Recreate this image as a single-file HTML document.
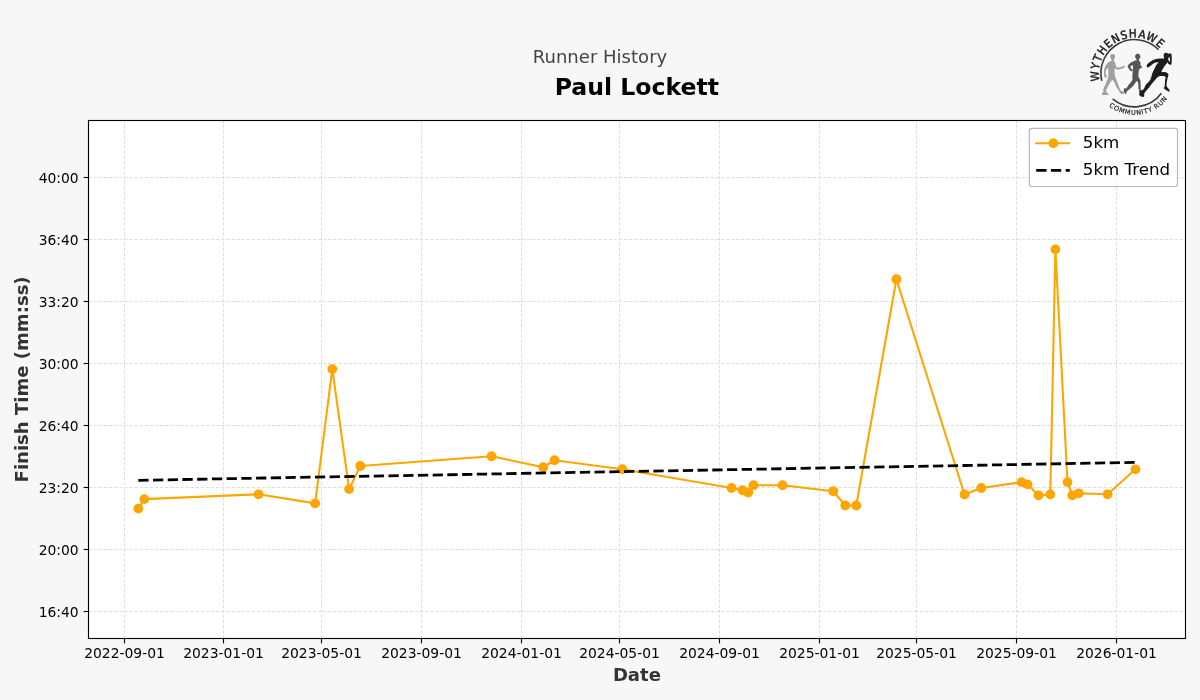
<!DOCTYPE html>
<html lang="en"><head><meta charset="utf-8"><title>Runner History - Paul Lockett</title>
<style>
html,body{margin:0;padding:0;background:#f7f7f7;}
body{width:1200px;height:700px;overflow:hidden;}
svg{display:block;}
text{font-family:"DejaVu Sans","Liberation Sans",sans-serif;}
</style></head><body>
<svg width="1200" height="700" viewBox="0 0 1200 700">
<rect x="0" y="0" width="1200" height="700" fill="#f7f7f7"/>
<rect x="88.5" y="120.5" width="1097.0" height="518.0" fill="#ffffff"/>
<g stroke="#dedede" stroke-width="1" stroke-dasharray="3.4 1.7" fill="none">
<path d="M124.50 638.5V120.5"/><path d="M223.50 638.5V120.5"/><path d="M321.50 638.5V120.5"/><path d="M421.50 638.5V120.5"/><path d="M521.50 638.5V120.5"/><path d="M619.50 638.5V120.5"/><path d="M719.50 638.5V120.5"/><path d="M819.50 638.5V120.5"/><path d="M916.50 638.5V120.5"/><path d="M1016.50 638.5V120.5"/><path d="M1116.50 638.5V120.5"/><path d="M88.5 177.50H1185.5"/><path d="M88.5 239.50H1185.5"/><path d="M88.5 301.50H1185.5"/><path d="M88.5 363.50H1185.5"/><path d="M88.5 425.50H1185.5"/><path d="M88.5 487.50H1185.5"/><path d="M88.5 549.50H1185.5"/><path d="M88.5 611.50H1185.5"/>
</g>
<g stroke="#000" stroke-width="1.11" fill="none">
<path d="M124.50 638.5v4.86"/><path d="M223.50 638.5v4.86"/><path d="M321.50 638.5v4.86"/><path d="M421.50 638.5v4.86"/><path d="M521.50 638.5v4.86"/><path d="M619.50 638.5v4.86"/><path d="M719.50 638.5v4.86"/><path d="M819.50 638.5v4.86"/><path d="M916.50 638.5v4.86"/><path d="M1016.50 638.5v4.86"/><path d="M1116.50 638.5v4.86"/><path d="M88.5 177.50h-4.86"/><path d="M88.5 239.50h-4.86"/><path d="M88.5 301.50h-4.86"/><path d="M88.5 363.50h-4.86"/><path d="M88.5 425.50h-4.86"/><path d="M88.5 487.50h-4.86"/><path d="M88.5 549.50h-4.86"/><path d="M88.5 611.50h-4.86"/>
</g>
<path d="M138.3 508.6 L144.3 499.1 L258.6 494.3 L315.1 503.4 L332.3 369.1 L349.1 489.1 L360.3 466.0 L491.5 456.25 L543.25 467.25 L554.5 460.25 L622.25 469.25 L731.5 488 L742.5 490.25 L748.25 492.5 L753.5 485.25 L782.5 485.25 L833.25 491.25 L845.25 505.5 L856.25 505.5 L896.4 279.2 L964.5 494.5 L981.25 488 L1021.6 482.1 L1027.5 484.4 L1038.5 495.3 L1050.3 494.4 L1055.4 249.4 L1067.5 482.1 L1072.3 495.3 L1078.7 493.3 L1107.5 494.3 L1135.5 469.3" fill="none" stroke="#ffa500" stroke-width="2.08" stroke-linejoin="round" stroke-linecap="butt"/>
<g fill="#ffa500"><circle cx="138.3" cy="508.6" r="4.9"/><circle cx="144.3" cy="499.1" r="4.9"/><circle cx="258.6" cy="494.3" r="4.9"/><circle cx="315.1" cy="503.4" r="4.9"/><circle cx="332.3" cy="369.1" r="4.9"/><circle cx="349.1" cy="489.1" r="4.9"/><circle cx="360.3" cy="466.0" r="4.9"/><circle cx="491.5" cy="456.25" r="4.9"/><circle cx="543.25" cy="467.25" r="4.9"/><circle cx="554.5" cy="460.25" r="4.9"/><circle cx="622.25" cy="469.25" r="4.9"/><circle cx="731.5" cy="488" r="4.9"/><circle cx="742.5" cy="490.25" r="4.9"/><circle cx="748.25" cy="492.5" r="4.9"/><circle cx="753.5" cy="485.25" r="4.9"/><circle cx="782.5" cy="485.25" r="4.9"/><circle cx="833.25" cy="491.25" r="4.9"/><circle cx="845.25" cy="505.5" r="4.9"/><circle cx="856.25" cy="505.5" r="4.9"/><circle cx="896.4" cy="279.2" r="4.9"/><circle cx="964.5" cy="494.5" r="4.9"/><circle cx="981.25" cy="488" r="4.9"/><circle cx="1021.6" cy="482.1" r="4.9"/><circle cx="1027.5" cy="484.4" r="4.9"/><circle cx="1038.5" cy="495.3" r="4.9"/><circle cx="1050.3" cy="494.4" r="4.9"/><circle cx="1055.4" cy="249.4" r="4.9"/><circle cx="1067.5" cy="482.1" r="4.9"/><circle cx="1072.3" cy="495.3" r="4.9"/><circle cx="1078.7" cy="493.3" r="4.9"/><circle cx="1107.5" cy="494.3" r="4.9"/><circle cx="1135.5" cy="469.3" r="4.9"/></g>
<path d="M138.3 480.3L1135.5 462.4" fill="none" stroke="#000" stroke-width="2.78" stroke-dasharray="10.28 4.44"/>
<rect x="88.5" y="120.5" width="1097.0" height="518.0" fill="none" stroke="#000" stroke-width="1.11"/>
<g font-size="13.89px" fill="#000">
<text x="124.50" y="658.2" text-anchor="middle">2022-09-01</text><text x="223.50" y="658.2" text-anchor="middle">2023-01-01</text><text x="321.50" y="658.2" text-anchor="middle">2023-05-01</text><text x="421.50" y="658.2" text-anchor="middle">2023-09-01</text><text x="521.50" y="658.2" text-anchor="middle">2024-01-01</text><text x="619.50" y="658.2" text-anchor="middle">2024-05-01</text><text x="719.50" y="658.2" text-anchor="middle">2024-09-01</text><text x="819.50" y="658.2" text-anchor="middle">2025-01-01</text><text x="916.50" y="658.2" text-anchor="middle">2025-05-01</text><text x="1016.50" y="658.2" text-anchor="middle">2025-09-01</text><text x="1116.50" y="658.2" text-anchor="middle">2026-01-01</text>
<text x="78.7" y="182.80" text-anchor="end">40:00</text><text x="78.7" y="244.80" text-anchor="end">36:40</text><text x="78.7" y="306.80" text-anchor="end">33:20</text><text x="78.7" y="368.80" text-anchor="end">30:00</text><text x="78.7" y="430.80" text-anchor="end">26:40</text><text x="78.7" y="492.80" text-anchor="end">23:20</text><text x="78.7" y="554.80" text-anchor="end">20:00</text><text x="78.7" y="616.80" text-anchor="end">16:40</text>
</g>
<text x="636.9" y="680.5" text-anchor="middle" font-size="18.06px" font-weight="bold" fill="#333333">Date</text>
<text transform="translate(28.1 379.4) rotate(-90)" text-anchor="middle" font-size="18.06px" font-weight="bold" fill="#333333">Finish Time (mm:ss)</text>
<text x="600" y="62.5" text-anchor="middle" font-size="18.06px" fill="#444444">Runner History</text>
<text x="636.9" y="94.6" text-anchor="middle" font-size="23.6px" font-weight="bold" fill="#000">Paul Lockett</text>
<rect x="1029.3" y="128.3" width="148.2" height="58.2" rx="2.8" ry="2.8" fill="#ffffff" fill-opacity="0.8" stroke="#b8b8b8" stroke-opacity="1" stroke-width="1.2"/>
<path d="M1035.2 143.2H1070.2" stroke="#ffa500" stroke-width="2.08" fill="none"/><circle cx="1053.3" cy="143.2" r="4.9" fill="#ffa500"/>
<path d="M1036.2 170.4H1069.8" stroke="#000" stroke-width="2.78" stroke-dasharray="10.28 4.44" fill="none"/>
<text x="1082.8" y="148.2" font-size="16.67px" fill="#000">5km</text>
<text x="1082.8" y="174.7" font-size="16.67px" fill="#000">5km Trend</text>
<g id="logo"><path d="M1101.77 80.82A33.60 33.60 0 0 1 1158.59 49.78" fill="none" stroke="#3a3a3a" stroke-width="1.6"/><path d="M1112.72 98.79A33.60 33.60 0 0 0 1161.44 93.28" fill="none" stroke="#3a3a3a" stroke-width="1.6"/><path id="tp1" d="M1103.58 91.05A35.70 35.70 0 0 1 1165.42 55.35" fill="none"/><path id="tp2" d="M1098.39 94.05A41.70 41.70 0 0 0 1175.57 80.44" fill="none"/><text font-size="11.4px" letter-spacing="1.05" fill="#1a1a1a" stroke="#1a1a1a" stroke-width="0.45" style="font-family:'DejaVu Sans Condensed','DejaVu Sans',sans-serif;font-stretch:condensed"><textPath href="#tp1" startOffset="10.90">WYTHENSHAWE</textPath></text><text font-size="6.5px" letter-spacing="0.72" fill="#1a1a1a" stroke="#1a1a1a" stroke-width="0.2" style="font-family:'DejaVu Sans',sans-serif"><textPath href="#tp2" startOffset="16.01">COMMUNITY RUN</textPath></text><path d="M1112.59 53.97C1113.25 53.97 1114.16 54.12 1114.58 54.66C1114.99 55.19 1115.17 56.37 1115.05 57.19C1114.94 58.01 1114.08 58.96 1113.89 59.59C1113.70 60.22 1113.68 60.45 1113.89 60.96C1114.10 61.47 1114.78 61.87 1115.12 62.67C1115.47 63.47 1115.60 64.95 1115.95 65.75C1116.29 66.55 1116.23 67.32 1117.18 67.47C1118.13 67.61 1120.55 66.93 1121.63 66.64C1122.71 66.36 1123.14 65.73 1123.68 65.75C1124.23 65.78 1125.03 66.38 1124.92 66.78C1124.80 67.18 1124.12 67.69 1123.00 68.15C1121.88 68.61 1119.38 69.33 1118.21 69.52C1117.03 69.71 1116.50 69.58 1115.95 69.32C1115.39 69.05 1115.04 66.94 1114.85 67.95C1114.66 68.95 1114.53 73.42 1114.78 75.34C1115.03 77.26 1115.73 77.74 1116.36 79.45C1116.98 81.16 1117.78 83.73 1118.55 85.62C1119.31 87.50 1120.05 89.78 1120.95 90.75C1121.84 91.72 1123.47 90.92 1123.89 91.44C1124.31 91.95 1123.97 93.44 1123.48 93.84C1122.99 94.24 1121.56 94.16 1120.95 93.84C1120.33 93.52 1120.52 93.00 1119.78 91.92C1119.04 90.83 1117.41 88.95 1116.49 87.33C1115.58 85.71 1115.04 83.39 1114.30 82.19C1113.56 80.99 1112.99 79.62 1112.04 80.14C1111.09 80.65 1109.61 83.45 1108.62 85.27C1107.62 87.10 1106.14 89.69 1106.08 91.10C1106.03 92.50 1107.85 93.07 1108.27 93.70C1108.70 94.33 1109.62 94.70 1108.62 94.86C1107.61 95.02 1103.31 94.97 1102.25 94.66C1101.18 94.35 1102.02 93.52 1102.25 93.01C1102.47 92.51 1103.47 92.13 1103.62 91.64C1103.76 91.15 1102.84 91.30 1103.14 90.07C1103.43 88.84 1104.68 86.02 1105.40 84.25C1106.12 82.48 1106.97 80.82 1107.45 79.45C1107.93 78.08 1108.14 77.51 1108.27 76.03C1108.41 74.54 1108.35 71.89 1108.27 70.55C1108.19 69.20 1108.18 67.95 1107.79 67.95C1107.41 67.95 1106.25 69.43 1105.95 70.55C1105.64 71.67 1105.79 73.74 1105.95 74.66C1106.11 75.57 1106.79 75.59 1106.90 76.03C1107.02 76.46 1106.97 77.01 1106.63 77.26C1106.29 77.51 1105.26 77.85 1104.85 77.53C1104.44 77.21 1104.28 76.62 1104.16 75.34C1104.05 74.06 1103.96 71.40 1104.16 69.86C1104.37 68.32 1104.71 67.35 1105.40 66.10C1106.08 64.84 1107.28 63.18 1108.27 62.33C1109.27 61.47 1110.83 61.42 1111.36 60.96C1111.88 60.50 1111.61 60.22 1111.42 59.59C1111.24 58.96 1110.40 58.01 1110.26 57.19C1110.12 56.37 1110.21 55.19 1110.60 54.66C1110.99 54.12 1111.93 53.97 1112.59 53.97Z" fill="#a0a0a0"/><path d="M1137.67 53.84C1138.36 53.84 1139.29 54.24 1139.73 54.79C1140.16 55.35 1140.40 56.39 1140.27 57.19C1140.15 57.99 1139.18 58.98 1138.97 59.59C1138.77 60.19 1138.80 60.37 1139.04 60.82C1139.28 61.28 1140.16 61.53 1140.41 62.33C1140.66 63.13 1140.32 64.93 1140.55 65.62C1140.78 66.30 1141.60 66.05 1141.78 66.44C1141.96 66.83 1141.87 67.63 1141.64 67.95C1141.42 68.26 1140.87 67.92 1140.41 68.36C1139.95 68.79 1139.22 69.27 1138.90 70.55C1138.58 71.83 1138.37 74.60 1138.49 76.03C1138.62 77.45 1139.35 78.37 1139.66 79.11C1139.97 79.85 1140.17 79.39 1140.34 80.48C1140.51 81.56 1140.58 83.87 1140.68 85.62C1140.79 87.36 1140.53 90.05 1140.96 90.96C1141.39 91.87 1142.79 90.39 1143.29 91.10C1143.79 91.80 1144.09 94.27 1143.97 95.21C1143.86 96.14 1143.38 96.71 1142.60 96.71C1141.83 96.71 1139.84 95.91 1139.32 95.21C1138.79 94.50 1139.59 93.61 1139.45 92.47C1139.32 91.32 1138.72 89.95 1138.49 88.36C1138.26 86.76 1138.40 84.06 1138.08 82.88C1137.76 81.69 1137.25 80.94 1136.58 81.23C1135.90 81.53 1135.03 83.47 1134.04 84.66C1133.05 85.84 1131.75 87.28 1130.62 88.36C1129.49 89.43 1127.91 90.50 1127.26 91.10C1126.61 91.69 1127.01 91.42 1126.71 91.92C1126.42 92.42 1125.94 94.20 1125.48 94.11C1125.02 94.02 1124.18 92.35 1123.97 91.37C1123.77 90.39 1123.88 88.70 1124.25 88.22C1124.61 87.74 1125.45 89.04 1126.16 88.49C1126.88 87.95 1127.65 86.15 1128.56 84.93C1129.47 83.71 1130.98 82.19 1131.64 81.16C1132.31 80.14 1132.42 79.62 1132.53 78.77C1132.65 77.91 1132.29 77.17 1132.33 76.03C1132.36 74.89 1132.65 72.83 1132.74 71.92C1132.83 71.00 1133.15 70.64 1132.88 70.55C1132.60 70.46 1131.83 71.76 1131.10 71.37C1130.37 70.98 1129.04 69.16 1128.49 68.22C1127.95 67.28 1127.51 66.64 1127.81 65.75C1128.11 64.86 1129.12 63.70 1130.27 62.88C1131.43 62.05 1133.69 61.26 1134.73 60.82C1135.76 60.39 1136.21 60.50 1136.51 60.27C1136.80 60.05 1136.72 59.97 1136.51 59.45C1136.29 58.94 1135.35 57.97 1135.21 57.19C1135.06 56.42 1135.21 55.35 1135.62 54.79C1136.03 54.24 1136.99 53.84 1137.67 53.84ZM1132.74 65.21C1132.33 64.71 1130.50 66.20 1130.41 66.92C1130.32 67.64 1131.78 69.03 1132.19 69.52C1132.60 70.01 1132.79 70.58 1132.88 69.86C1132.97 69.14 1133.15 65.70 1132.74 65.21Z" fill="#555555" fill-rule="evenodd"/><path d="M1166.06 52.63C1166.73 52.63 1167.73 53.32 1168.22 53.55C1168.70 53.78 1168.78 54.02 1168.99 54.02C1169.19 54.02 1169.06 53.58 1169.45 53.55C1169.83 53.53 1170.91 53.19 1171.30 53.86C1171.68 54.53 1171.70 56.30 1171.76 57.56C1171.83 58.82 1171.77 60.23 1171.68 61.41C1171.59 62.60 1171.75 64.24 1171.22 64.65C1170.69 65.06 1169.18 64.19 1168.52 63.88C1167.87 63.57 1168.45 61.57 1167.29 62.80C1166.13 64.03 1161.87 69.71 1161.59 71.28C1161.31 72.85 1164.46 71.72 1165.60 72.20C1166.73 72.69 1168.11 72.92 1168.37 74.21C1168.63 75.49 1167.42 77.93 1167.14 79.91C1166.85 81.89 1166.31 84.43 1166.67 86.08C1167.03 87.72 1168.91 88.83 1169.29 89.78C1169.68 90.73 1169.89 92.04 1168.99 91.78C1168.09 91.52 1164.62 89.13 1163.90 88.24C1163.18 87.34 1164.46 87.77 1164.67 86.39C1164.88 85.00 1164.98 81.45 1165.13 79.91C1165.29 78.37 1165.96 77.78 1165.60 77.14C1165.24 76.49 1164.13 76.16 1162.97 76.06C1161.82 75.96 1160.10 75.72 1158.66 76.52C1157.22 77.32 1155.91 79.05 1154.34 80.84C1152.78 82.62 1150.87 85.25 1149.26 87.23C1147.64 89.21 1145.53 91.13 1144.63 92.71C1143.73 94.29 1144.61 96.22 1143.86 96.71C1143.12 97.20 1140.86 96.38 1140.16 95.63C1139.47 94.89 1139.65 93.09 1139.70 92.24C1139.75 91.39 1139.85 90.98 1140.47 90.55C1141.09 90.11 1142.47 90.62 1143.40 89.62C1144.32 88.62 1144.89 86.15 1146.02 84.54C1147.15 82.92 1149.08 81.92 1150.18 79.91C1151.29 77.91 1151.57 75.08 1152.65 72.51C1153.73 69.94 1155.70 66.09 1156.66 64.50C1157.61 62.90 1158.32 63.32 1158.35 62.96C1158.38 62.60 1157.73 62.18 1156.81 62.34C1155.88 62.49 1154.06 63.14 1152.80 63.88C1151.54 64.63 1150.13 66.21 1149.26 66.81C1148.38 67.41 1147.96 67.81 1147.56 67.50C1147.16 67.19 1146.28 66.00 1146.87 64.96C1147.46 63.92 1149.60 62.26 1151.11 61.26C1152.61 60.26 1153.93 59.40 1155.88 58.95C1157.84 58.50 1161.43 58.69 1162.82 58.56C1164.21 58.43 1164.08 58.67 1164.21 58.18C1164.34 57.69 1163.59 56.40 1163.59 55.63C1163.59 54.86 1163.80 54.05 1164.21 53.55C1164.62 53.05 1165.39 52.63 1166.06 52.63ZM1168.06 59.26C1168.07 59.80 1168.59 60.39 1168.91 60.80C1169.23 61.21 1169.85 62.13 1169.99 61.72C1170.13 61.31 1169.89 59.20 1169.76 58.33C1169.63 57.46 1169.37 56.61 1169.22 56.48C1169.06 56.35 1169.03 57.10 1168.83 57.56C1168.64 58.02 1168.05 58.72 1168.06 59.26Z" fill="#1c1c1c" fill-rule="evenodd"/></g>
</svg>
</body></html>
